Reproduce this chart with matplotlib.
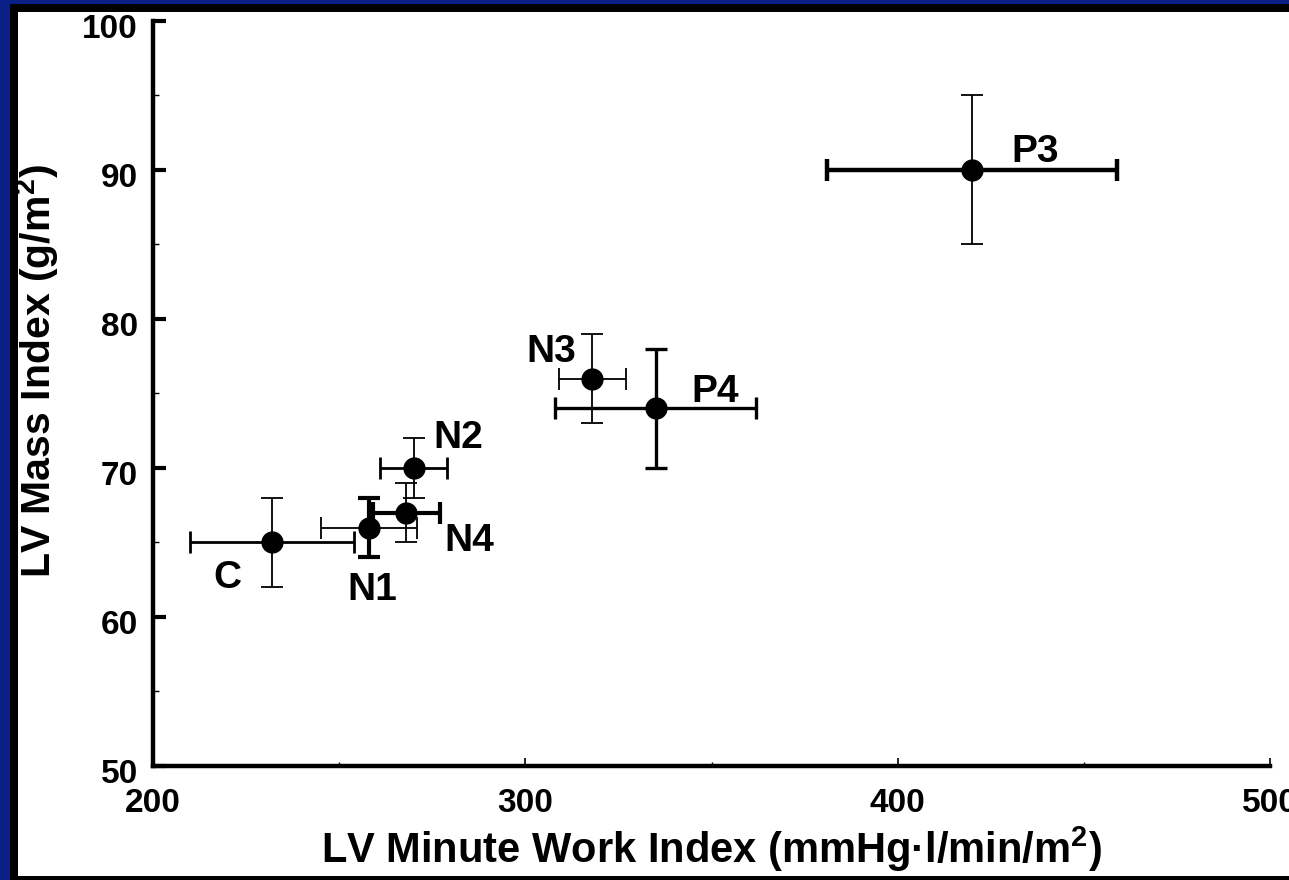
import matplotlib
matplotlib.use("Agg")
import matplotlib.pyplot as plt
import matplotlib.transforms as mtransforms
from matplotlib.patches import Rectangle
from matplotlib.ticker import MultipleLocator

# group means and SD
groups = ["C", "N1", "N2", "N4", "N3", "P4", "P3"]
work = [232, 258, 270, 268, 318, 335, 420]
mass = [65, 66, 70, 67, 76, 74, 90]
work_err = [22, 13, 9, 9, 9, 27, 39]
mass_err = [3, 2, 2, 2, 3, 4, 5]

# where the group names sit
label_x = [220, 259, 282, 285, 307, 351, 437]
label_y = [62.6, 61.8, 72.0, 65.1, 77.8, 75.1, 91.2]

# bar thickness for each group (horizontal, vertical)
lw_x = [2.0, 1.3, 2.0, 3.0, 1.3, 2.4, 3.2]
lw_y = [1.3, 3.0, 1.3, 1.3, 1.3, 2.4, 1.3]

plt.rcParams["font.family"] = ["Liberation Sans", "DejaVu Sans"]
plt.rcParams["font.weight"] = "bold"
plt.rcParams["mathtext.fontset"] = "custom"
plt.rcParams["mathtext.rm"] = "Liberation Sans:bold"
plt.rcParams["mathtext.bf"] = "Liberation Sans:bold"

fig = plt.figure(figsize=(12.89, 8.80), dpi=100)
fig.patch.set_facecolor("white")

# blue slide background and black frame
W, H = 1289, 880
fig.patches.append(Rectangle((0, 0), 10 / W, 1, transform=fig.transFigure,
                             facecolor="#0a1f86", edgecolor="none", zorder=0))
fig.patches.append(Rectangle((0, 1 - 4 / H), 1, 4 / H, transform=fig.transFigure,
                             facecolor="#0a1f86", edgecolor="none", zorder=0))
fig.patches.append(Rectangle((10 / W, 0), 8 / W, 1 - 4 / H, transform=fig.transFigure,
                             facecolor="black", edgecolor="none", zorder=0))
fig.patches.append(Rectangle((10 / W, 1 - 12 / H), 1, 8 / H, transform=fig.transFigure,
                             facecolor="black", edgecolor="none", zorder=0))
fig.patches.append(Rectangle((10 / W, 0), 1, 4 / H, transform=fig.transFigure,
                             facecolor="black", edgecolor="none", zorder=0))

ax = fig.add_axes([153 / W, 1 - 766 / H, (1270 - 153) / W, (766 - 21) / H])
ax.set_facecolor("none")

for i in range(len(groups)):
    ax.errorbar(work[i], mass[i], xerr=work_err[i], fmt="none", ecolor="black",
                elinewidth=lw_x[i], capsize=8, capthick=lw_x[i], zorder=2)
    ax.errorbar(work[i], mass[i], yerr=mass_err[i], fmt="none", ecolor="black",
                elinewidth=lw_y[i], capsize=8, capthick=lw_y[i], zorder=2)
ax.plot(work, mass, "o", color="black", markersize=15, linestyle="none", zorder=3)

for name, lx, ly in zip(groups, label_x, label_y):
    ax.text(lx, ly, name, fontsize=28, fontweight="bold", ha="center", va="center")

ax.set_xlim(200, 500)
ax.set_ylim(50, 100)
ax.xaxis.set_major_locator(MultipleLocator(100))
ax.xaxis.set_minor_locator(MultipleLocator(50))
ax.yaxis.set_major_locator(MultipleLocator(10))
ax.yaxis.set_minor_locator(MultipleLocator(5))

ax.spines["top"].set_visible(False)
ax.spines["right"].set_visible(False)
ax.spines["left"].set_linewidth(3.2)
ax.spines["bottom"].set_linewidth(3.2)

ax.tick_params(axis="y", which="major", direction="in", length=9, width=3,
               labelsize=24, pad=11)
ax.tick_params(axis="y", which="minor", direction="in", length=4, width=1)
ax.tick_params(axis="x", which="major", direction="in", length=6, width=1.2,
               labelsize=24, pad=16)
ax.tick_params(axis="x", which="minor", direction="in", length=3, width=1)

offset = mtransforms.ScaledTranslation(0, -5 / 100, fig.dpi_scale_trans)
for lab in ax.get_yticklabels():
    lab.set_fontweight("bold")
    lab.set_transform(lab.get_transform() + offset)
for lab in ax.get_xticklabels():
    lab.set_fontweight("bold")

# axis titles
fig.text(711 / W, 1 - 849 / H, "LV Minute Work Index (mmHg·l/min/m$^{2}$)",
         fontsize=30, fontweight="bold", ha="center", va="center")
fig.text(37 / W, 1 - 371 / H, "LV Mass Index (g/m$^{2}$)", fontsize=29.5,
         fontweight="bold", ha="center", va="center", rotation=90)

fig.savefig("out.png", dpi=100)
